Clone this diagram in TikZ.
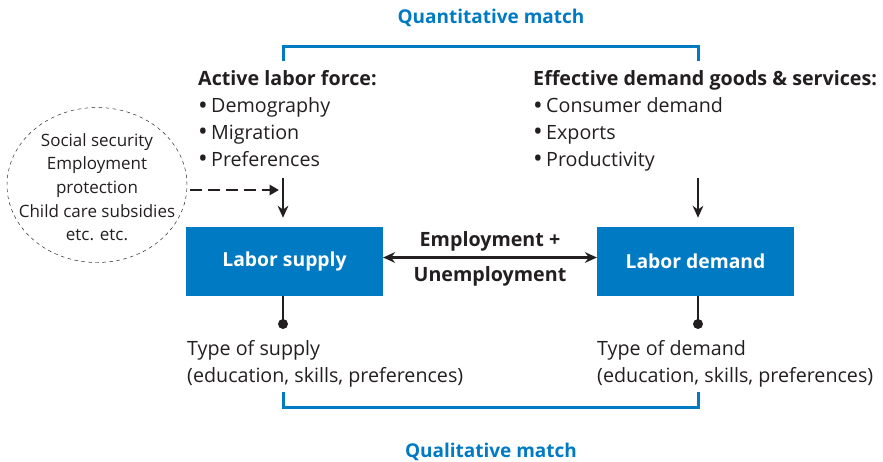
\documentclass[tikz,border=0pt]{standalone}
\usepackage{fontspec}
\setmainfont{Open Sans}
\usepackage{xcolor}
\usepackage{tikz}
\usetikzlibrary{arrows.meta,shapes.geometric}

\definecolor{wbblue}{RGB}{0,122,194}
\definecolor{ink}{RGB}{35,31,32}

\newcommand{\bul}{\raisebox{-0.5mm}{\fontsize{22}{0}\selectfont\textbullet}\,}

\tikzset{
  market/.style={fill=wbblue, minimum width=59mm, minimum height=20.7mm, inner sep=0pt,
    text=white, font=\fontsize{16.5}{19}\selectfont\bfseries},
  listtext/.style={anchor=base west, align=left, inner sep=0pt, text=ink,
    font=\fontsize{16.8}{22.8}\selectfont},
  matchlabel/.style={text=wbblue, font=\fontsize{16.2}{19}\selectfont\bfseries},
  bracket/.style={wbblue, line width=0.9mm},
  link/.style={ink, line width=0.8mm},
  flow/.style={link, -{Stealth[length=3.6mm,width=3.2mm]}},
}

\begin{document}
\begin{tikzpicture}[x=0.3mm, y=-0.3mm]
\useasboundingbox (0,0) rectangle (883,461);

% quantitative match
\node[matchlabel] (quant) at (491,18) {Quantitative match};
\draw[bracket] (283,61) -- (283,46) -- (698,46) -- (698,61);

% determinants
\node[listtext] (force) at (198,166) {\textbf{Active labor force:}\\\bul Demography\\\bul Migration\\\bul Preferences};
\node[listtext] (goods) at (533,166) {\textbf{Effective demand goods \& services:}\\\bul Consumer demand\\\bul Exports\\\bul Productivity};

% institutions
\node[draw=ink, dashed, ellipse, minimum width=54mm, minimum height=46.5mm, inner sep=0pt] (inst) at (97,185) {};
\node[align=center, inner sep=0pt, text=ink, font=\fontsize{14.5}{20.2}\selectfont] (insttext) at (97,187)
  {Social security\\Employment\\protection\\Child care subsidies\\etc. etc.};

% markets
\node[market] (supply) at (284.5,261.5) {Labor supply};
\node[market] (demand) at (695.5,261.5) {Labor demand};

\coordinate (sin) at (283,178);
\coordinate (din) at (698,178);
\draw[flow] (sin) -- ([yshift=2.7mm]supply.north -| sin);
\draw[flow] (din) -- ([yshift=2.7mm]demand.north -| din);
\coordinate (dashend) at (279,190);
\draw[link, dash pattern=on 3.6mm off 1.8mm, -{Triangle[length=2.8mm,width=3mm]}] (inst.east |- dashend) ++(3,0) -- (dashend);

\draw[link, {Stealth[length=3.6mm,width=3.2mm]}-{Stealth[length=3.6mm,width=3.2mm]}] (supply.east) ++(0,-4) -- ([yshift=1.2mm]demand.west)
  node[midway, above=0.4mm, font=\fontsize{16.8}{19}\selectfont\bfseries, text=ink] (emp) {Employment +}
  node[midway, below=1.1mm, font=\fontsize{16.8}{19}\selectfont\bfseries, text=ink] (unemp) {Unemployment};

% types
\coordinate (sdot) at (283,324);
\coordinate (ddot) at (698,324);
\draw[link] (supply.south -| sdot) -- (sdot);
\draw[link] (demand.south -| ddot) -- (ddot);
\fill[ink] (sdot) circle (1.5mm);
\fill[ink] (ddot) circle (1.5mm);
\node[listtext] (stype) at (187,382) {Type of supply\\(education, skills, preferences)};
\node[listtext] (dtype) at (597,382) {Type of demand\\(education, skills, preferences)};

% qualitative match
\draw[bracket] (283,392) -- (283,407) -- (698,407) -- (698,392);
\node[matchlabel] (qual) at (491,452) {Qualitative match};
\end{tikzpicture}
\end{document}
